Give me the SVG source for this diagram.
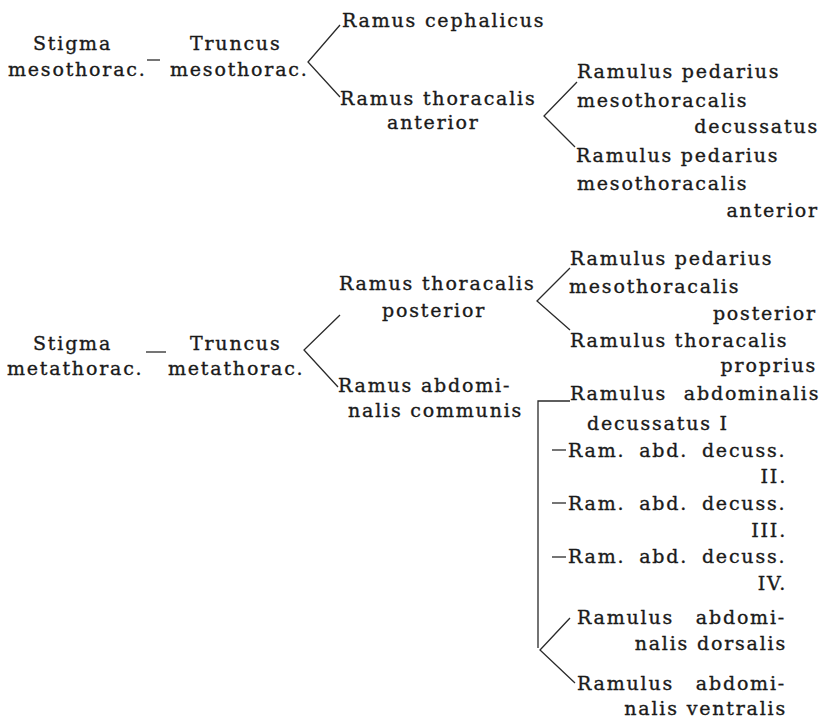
<svg xmlns="http://www.w3.org/2000/svg" width="822" height="721" viewBox="0 0 822 721">
<style>
text{font-family:"DejaVu Serif","Liberation Serif",serif;font-size:19px;letter-spacing:1.8px;fill:#1a1a1a;stroke:#1a1a1a;stroke-width:0.35px}
.e{text-anchor:end}
.ws1{word-spacing:6px}
.ws2{word-spacing:14px}
.ws3{word-spacing:9px}
#connectors line,#connectors polyline{stroke:#2a2a2a;stroke-width:1.3;fill:none}
</style>
<rect width="822" height="721" fill="#ffffff"/>
<g id="connectors">
<line x1="147" y1="60" x2="160" y2="60"/>
<polyline points="340,25 308,62 340,97"/>
<polyline points="577,82 544,116 575,147"/>
<line x1="146" y1="352" x2="166" y2="352"/>
<polyline points="340,315 304,350 338,387"/>
<polyline points="570,268 537,301 570,330"/>
<polyline points="570,401 538,401 538,648"/>
<line x1="552" y1="450" x2="566" y2="450"/>
<line x1="552" y1="503" x2="566" y2="503"/>
<line x1="552" y1="557" x2="566" y2="557"/>
<polyline points="570,618 540,650 575,683"/>
</g>
<g id="stigma-meso"><text x="33" y="50">Stigma</text><text x="8" y="76">mesothorac.</text></g>
<g id="truncus-meso"><text x="190" y="50">Truncus</text><text x="170" y="76">mesothorac.</text></g>
<g id="ramus-cephalicus"><text x="342" y="27">Ramus cephalicus</text></g>
<g id="ramus-thor-ant"><text x="340" y="105">Ramus thoracalis</text><text x="387" y="129">anterior</text></g>
<g id="ramulus-ped-decuss"><text x="577" y="78">Ramulus pedarius</text><text x="577" y="107">mesothoracalis</text><text class="e" x="819" y="133">decussatus</text></g>
<g id="ramulus-ped-ant"><text x="576" y="162">Ramulus pedarius</text><text x="577" y="190">mesothoracalis</text><text class="e" x="819" y="217">anterior</text></g>
<g id="stigma-meta"><text x="33" y="350">Stigma</text><text x="7" y="375">metathorac.</text></g>
<g id="truncus-meta"><text x="190" y="350">Truncus</text><text x="168" y="375">metathorac.</text></g>
<g id="ramus-thor-post"><text x="339" y="290">Ramus thoracalis</text><text x="382" y="317">posterior</text></g>
<g id="ramulus-ped-post"><text x="570" y="265">Ramulus pedarius</text><text x="569" y="293">mesothoracalis</text><text class="e" x="817" y="320">posterior</text></g>
<g id="ramulus-thor-proprius"><text x="570" y="347">Ramulus thoracalis</text><text class="e" x="817" y="372">proprius</text></g>
<g id="ramus-abd-communis"><text x="338" y="392">Ramus abdomi-</text><text x="348" y="417">nalis communis</text></g>
<g id="ram-abd-decuss-1"><text class="ws3" x="570" y="400">Ramulus abdominalis</text><text x="587" y="430">decussatus I</text></g>
<g id="ram-abd-decuss-2"><text class="ws1" x="568" y="457">Ram. abd. decuss.</text><text class="e" x="787" y="483">II.</text></g>
<g id="ram-abd-decuss-3"><text class="ws1" x="568" y="510">Ram. abd. decuss.</text><text class="e" x="787" y="537">III.</text></g>
<g id="ram-abd-decuss-4"><text class="ws1" x="568" y="563">Ram. abd. decuss.</text><text class="e" x="787" y="590">IV.</text></g>
<g id="ramulus-abd-dorsalis"><text class="ws2" x="577" y="624">Ramulus abdomi-</text><text class="e" x="787" y="650">nalis dorsalis</text></g>
<g id="ramulus-abd-ventralis"><text class="ws2" x="577" y="690">Ramulus abdomi-</text><text class="e" x="787" y="715">nalis ventralis</text></g>
</svg>
